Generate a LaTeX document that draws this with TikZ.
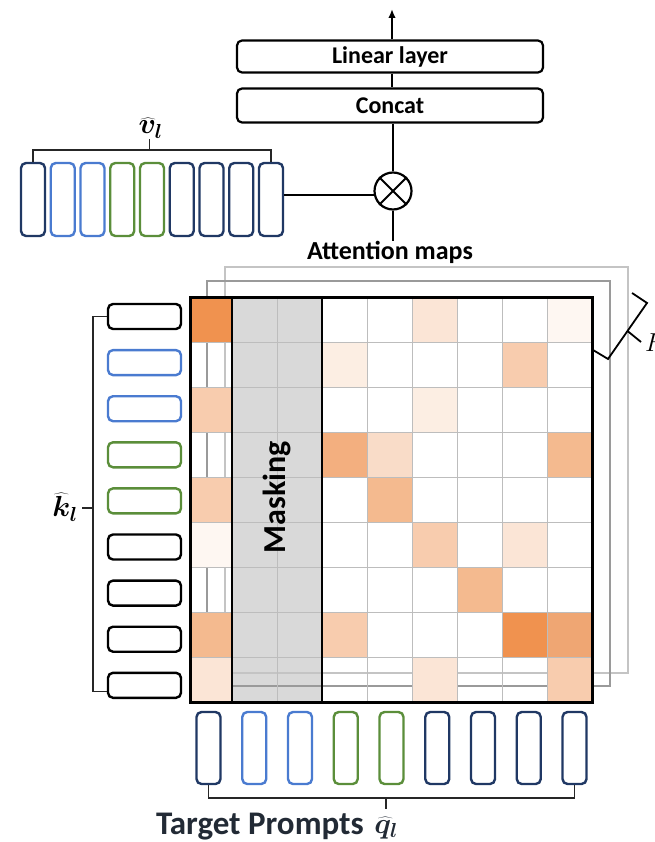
\RequirePackage{fix-cm}
\documentclass[tikz,border=0pt]{standalone}
\usepackage{fontspec}
\usepackage{bm}
\newfontfamily\labfont{Carlito}
\usetikzlibrary{calc,arrows.meta}

\definecolor{navy}{HTML}{203864}
\definecolor{tokblue}{HTML}{4A7BD0}
\definecolor{tokgreen}{HTML}{5B8E3A}
\definecolor{maskgray}{HTML}{D9D9D9}
\definecolor{gridgray}{HTML}{BDBDBD}
\definecolor{headA}{HTML}{9A9A9A}
\definecolor{headB}{HTML}{C4C4C4}
\definecolor{txtdark}{HTML}{222A35}
% attention weights, strongest to weakest
\definecolor{cA}{HTML}{F0924F}
\definecolor{cB}{HTML}{EFA673}
\definecolor{cC}{HTML}{F3AF7F}
\definecolor{cD}{HTML}{F4BA8F}
\definecolor{cE}{HTML}{F8CCAE}
\definecolor{cF}{HTML}{F9DCC8}
\definecolor{cG}{HTML}{FBE5D6}
\definecolor{cH}{HTML}{FCEEE3}
\definecolor{cI}{HTML}{FEF7F2}

\tikzset{
  tokv/.style={draw, rounded corners=5pt, line width=2.4pt, minimum width=24pt,
    minimum height=73pt, inner sep=0pt, fill=white},
  tokk/.style={draw, rounded corners=5pt, line width=2.4pt, minimum width=73pt,
    minimum height=25pt, inner sep=0pt, fill=white},
  layerbox/.style={draw, line width=2.2pt, rounded corners=5pt, minimum width=306pt,
    minimum height=32pt, fill=white, inner sep=0pt,
    font=\labfont\bfseries\fontsize{24}{24}\selectfont},
  brk/.style={line width=1.5pt, black!85},
  link/.style={line width=2pt},
  gridline/.style={gridgray, line width=0.9pt},
  mathlab/.style={inner sep=0pt, font=\fontsize{29}{29}\selectfont},
}

\begin{document}
\begin{tikzpicture}[x=1pt,y=-1pt]
\useasboundingbox (0,0) rectangle (654,842);

% ---- output stack ----
\node[layerbox] (lin) at (390,56.5) {Linear layer};
\node[layerbox, minimum height=34pt] (cat) at (390,105.5) {Concat};
\coordinate (out) at (392,9);
\draw[link,-{Latex[length=9pt,width=7.5pt]}] (lin.north -| out) -- (out);
\draw[link] (lin.south -| out) -- (cat.north -| out);

\node[draw, circle, line width=2.2pt, minimum size=37pt, inner sep=0pt] (mul) at (393,191) {};
\draw[line width=2pt] (mul.45) -- (mul.225) (mul.135) -- (mul.315);
\draw[link] (cat.south -| mul) -- (mul.north);

\node[anchor=base, inner sep=0pt, font=\labfont\bfseries\fontsize{26}{26}\selectfont] (attn) at (390,259) {Attention maps};
\draw[link] (mul.south) -- (attn.north -| mul);

% ---- value tokens ----
\foreach \i/\c in {1/navy,2/tokblue,3/tokblue,4/tokgreen,5/tokgreen,6/navy,7/navy,8/navy,9/navy}
  \node[tokv, draw=\c] (v\i) at ({33+29.75*(\i-1)},199.5) {};
\draw[brk] (v1.north) -- ++(0,-12) coordinate (vb1) -| (v9.north);
\coordinate (vmid) at ($(vb1)!0.49!(vb1 -| v9.north)$);
\draw[brk] (vmid) -- ++(0,-11) coordinate (vtick);
\node[mathlab, anchor=base] (vlab) at ($(vtick)+(1,-5)$) {$\widehat{\bm{v}}_{\bm{l}}$};
\draw[link] (v9.east |- mul.192) -- (mul.192);

% ---- attention maps of the other heads ----
\fill[maskgray] (232,297) rectangle (322,702);
\draw[headB, line width=2.6pt] (225,267) rectangle (628,673);
\draw[headA, line width=2.6pt] (207,281) rectangle (610,686);

% ---- weights of the front map ----
\foreach \r/\c/\col in {1/1/cA,1/6/cG,1/9/cI,
    2/4/cH,2/8/cE,
    3/1/cE,3/6/cH,
    4/4/cC,4/5/cF,4/9/cD,
    5/1/cE,5/5/cD,
    6/1/cI,6/6/cE,6/8/cG,
    7/7/cD,
    8/1/cD,8/4/cE,8/8/cA,8/9/cB,
    9/1/cG,9/6/cG,9/9/cE}{
  \pgfmathsetmacro\xl{max(190,187+45*(\c-1))}
  \pgfmathsetmacro\xr{187+45*\c}
  \fill[\col] (\xl,{297+45*(\r-1)}) rectangle (\xr,{297+45*\r});
}
\foreach \j in {1,...,8} \draw[gridline] ({187+45*\j},297) -- ++(0,405);
\foreach \j in {1,...,8} \draw[gridline] (190,{297+45*\j}) -- ++(402,0);
\draw[line width=2.5pt] (232,297) rectangle (322,702);
\draw[line width=3pt] (190,297) rectangle (592,702);
\node[rotate=90, inner sep=0pt, font=\labfont\bfseries\fontsize{32}{32}\selectfont] (mask) at (277,497) {Masking};

% number of heads
\draw[line width=1.8pt] (593,350) -- (608,359) -- (647,303) -- (632,293);
\draw[line width=1.8pt] (627.5,331) -- (641,342);
\node[mathlab, anchor=west, font=\fontsize{26}{26}\selectfont] (hlab) at (645,343) {$H$};

% ---- key tokens ----
\foreach \i/\c in {1/black,2/tokblue,3/tokblue,4/tokgreen,5/tokgreen,6/black,7/black,8/black,9/black}
  \node[tokk, draw=\c] (k\i) at (144.5,{316.5+46.1*(\i-1)}) {};
\draw[brk] (k1.west) -- ++(-14,0) coordinate (kt) |- ([yshift=-6pt]k9.west);
\coordinate (kmid) at ($(kt)!0.5!(kt |- k9.south)$);
\draw[brk] (kmid) -- ++(-11,0) coordinate (ktick);
\node[mathlab, anchor=base east] (klab) at ($(ktick)+(-4,9)$) {$\widehat{\bm{k}}_{\bm{l}}$};

% ---- query tokens ----
\foreach \i/\c in {1/navy,2/tokblue,3/tokblue,4/tokgreen,5/tokgreen,6/navy,7/navy,8/navy,9/navy}
  \node[tokv, draw=\c, minimum height=72pt] (q\i) at ({208.5+45.75*(\i-1)},748) {};
\draw[brk] (q1.south) -- ++(0,13) coordinate (qb1) -| (q9.south);
\coordinate (qmid) at ($(qb1)!0.485!(qb1 -| q9.south)$);
\draw[brk] (qmid) -- ++(0,11) coordinate (qtick);
\node[mathlab, anchor=base, text=txtdark] (qlab) at (qtick |- 0,833) {$\widehat{\bm{q}}_{\bm{l}}$};
\node[anchor=base east, inner sep=0pt, text=txtdark, font=\labfont\bfseries\fontsize{33}{33}\selectfont] (tp) at (364,834) {Target Prompts};
\end{tikzpicture}
\end{document}
